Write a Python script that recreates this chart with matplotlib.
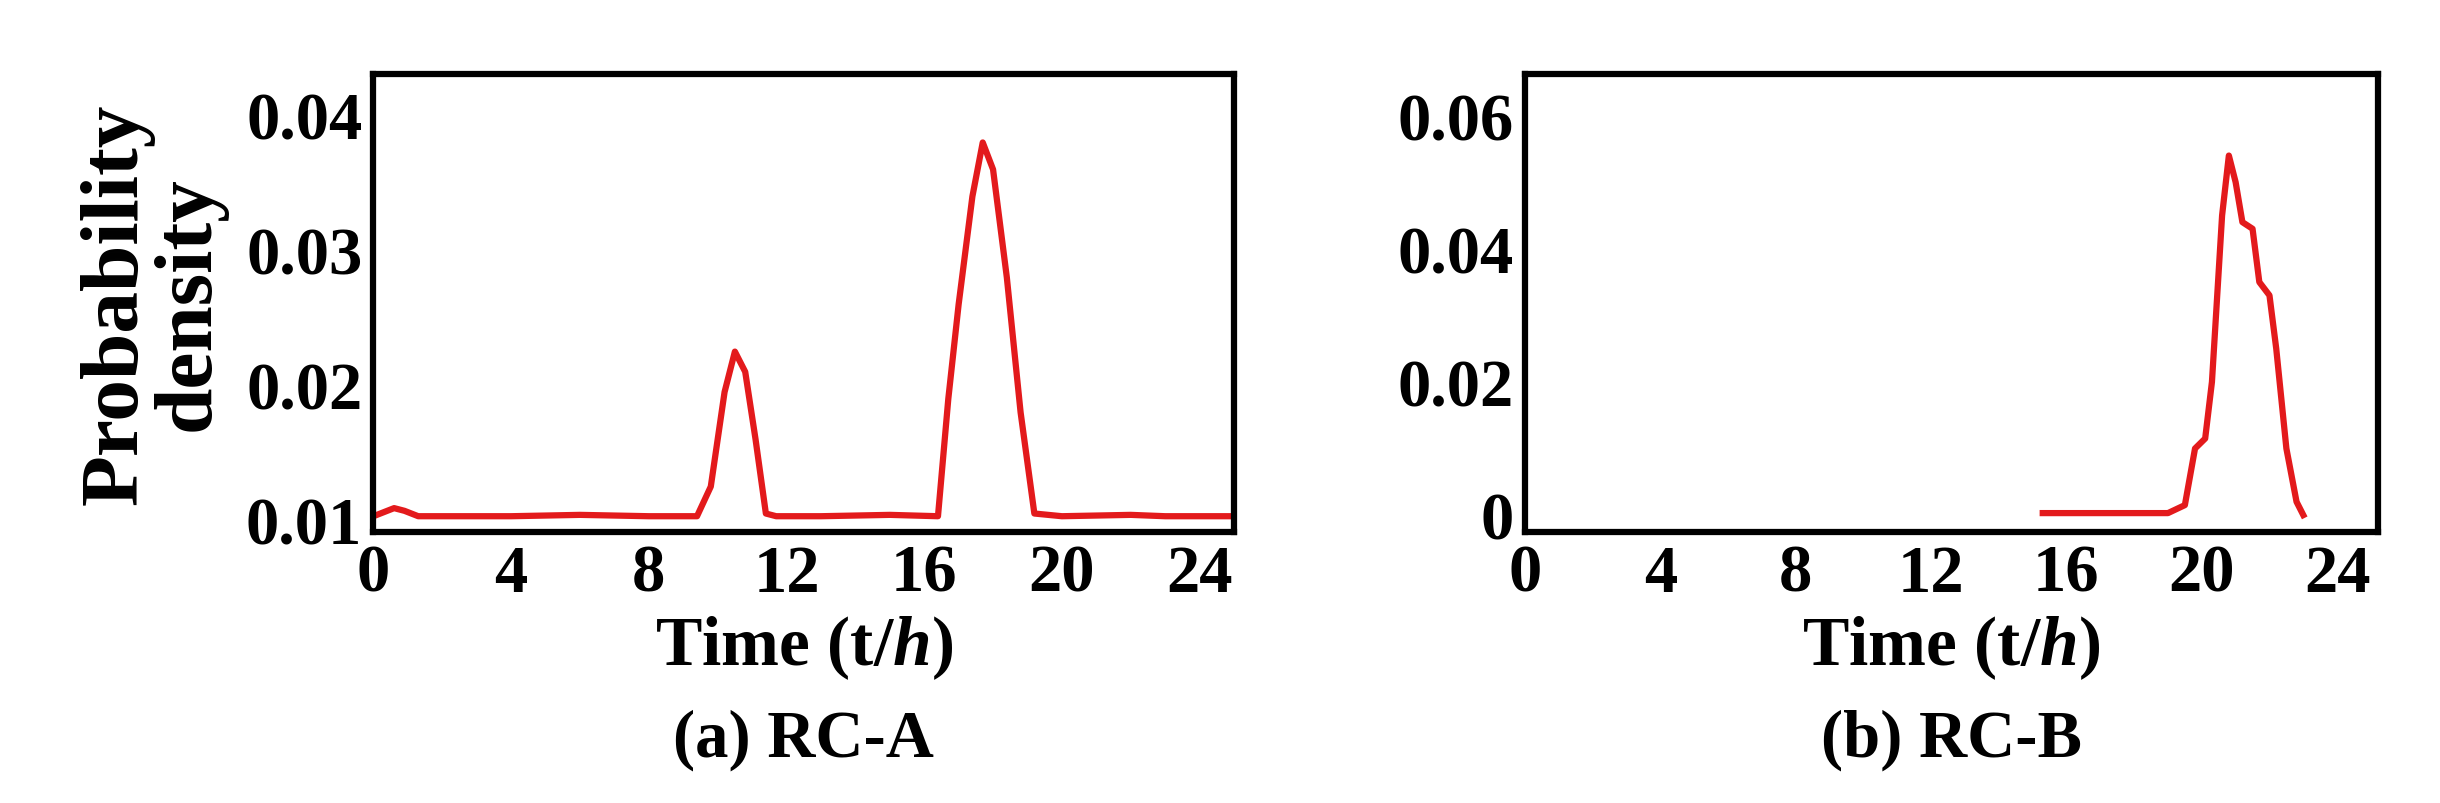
import matplotlib
matplotlib.use("Agg")
import matplotlib.pyplot as plt

plt.rcParams['font.family'] = ['Liberation Serif', 'DejaVu Serif']
plt.rcParams['font.weight'] = 'bold'
plt.rcParams['mathtext.fontset'] = 'custom'
plt.rcParams['mathtext.it'] = 'Liberation Serif:italic:bold'
plt.rcParams['mathtext.bf'] = 'Liberation Serif:italic:bold'

ta = [0, 0.3, 0.6, 0.9, 1.3, 2, 4, 6, 8, 9.4, 9.8, 10.2, 10.5, 10.8, 11.1, 11.4, 11.7, 13, 15, 16.4, 16.7, 17.0, 17.4, 17.7, 18.0, 18.4, 18.8, 19.2, 20, 22, 23, 25]
ya = [0.0103, 0.0106, 0.0109, 0.0107, 0.0103, 0.0103, 0.0103, 0.0104, 0.0103, 0.0103, 0.0125, 0.0195, 0.0225, 0.021, 0.016, 0.0105, 0.0103, 0.0103, 0.0104, 0.0103, 0.019, 0.026, 0.034, 0.038, 0.036, 0.028, 0.018, 0.0105, 0.0103, 0.0104, 0.0103, 0.0103]
tb = [15.3, 17, 19.0, 19.5, 19.8, 20.1, 20.3, 20.6, 20.8, 21.0, 21.2, 21.5, 21.7, 22.0, 22.2, 22.5, 22.8, 23.0]
yb = [0.0003, 0.0003, 0.0003, 0.0015, 0.010, 0.0115, 0.020, 0.045, 0.054, 0.050, 0.044, 0.043, 0.035, 0.033, 0.025, 0.010, 0.002, 0.0]

W, H = 1568, 517
fig = plt.figure(figsize=(24.4, 8.04), dpi=100)
ax1 = fig.add_axes([240/W, 1-343/H, 553/W, 295/H])
ax2 = fig.add_axes([980/W, 1-343/H, 548/W, 295/H])
red = '#e31a1c'
ax1.plot(ta, ya, color=red, lw=4.5)
ax2.plot(tb, yb, color=red, lw=4.5)
ax1.set_xlim(0, 25); ax1.set_ylim(0.0091, 0.0431)
ax1.set_yticks([0.01, 0.02, 0.03, 0.04]); ax1.set_yticklabels(['0.01', '0.02', '0.03', '0.04'])
ax2.set_xlim(0, 25.2); ax2.set_ylim(-0.0026, 0.0663)
ax2.set_yticks([0, 0.02, 0.04, 0.06]); ax2.set_yticklabels(['0', '0.02', '0.04', '0.06'])
for ax, lab in [(ax1, '(a) RC-A'), (ax2, '(b) RC-B')]:
    ax.set_xticks(range(0, 25, 4))
    ax.tick_params(labelsize=48, length=0, pad=8)
    for s in ax.spines.values():
        s.set_linewidth(4.5)
    ax.text(0.5, -0.25, 'Time (t/$\\mathit{h}$)', transform=ax.transAxes, ha='center', va='center', fontsize=50, fontweight='bold')
    ax.text(0.5, -0.45, lab, transform=ax.transAxes, ha='center', va='center', fontsize=48, fontweight='bold')
ax1.set_ylabel('Probability\ndensity', fontsize=60, fontweight='bold', labelpad=14, linespacing=0.95)
fig.savefig('out.png', dpi=100)
